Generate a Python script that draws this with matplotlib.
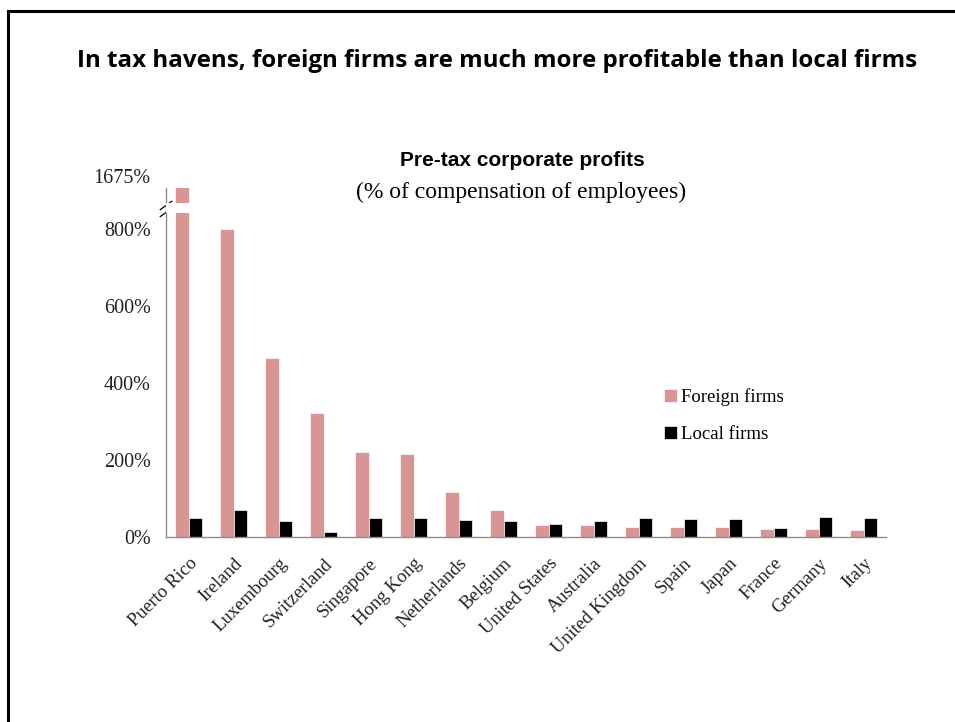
import matplotlib.pyplot as plt
import numpy as np
from matplotlib.lines import Line2D
from matplotlib.patches import Rectangle

countries = ["Puerto Rico", "Ireland", "Luxembourg", "Switzerland", "Singapore",
             "Hong Kong", "Netherlands", "Belgium", "United States", "Australia",
             "United Kingdom", "Spain", "Japan", "France", "Germany", "Italy"]
foreign = [1675, 800, 464, 323, 221, 215, 117, 70, 30, 30, 27, 27, 27, 22, 22, 18]
local = [50, 70, 41, 12, 50, 50, 44, 41, 33, 41, 49, 47, 47, 24, 53, 49]
ytick_vals = [0, 200, 400, 600, 800]

serif = "Liberation Serif"
pink = "#d99594"
txt = "#222222"

# axis is cut above 800%, the Puerto Rico bar runs off the top
y_top = 906
gap = (842, 866)

fig = plt.figure(figsize=(9.55, 7.22), dpi=100)
ax = fig.add_axes([166 / 955, 1 - 537 / 722, 720 / 955, 349 / 722])

x = np.arange(len(countries))
w = 0.3
ax.bar(x - w / 2, foreign, w, color=pink, edgecolor="white", linewidth=0.5, label="Foreign firms")
ax.bar(x + w / 2, local, w, color="black", edgecolor="white", linewidth=0.5, label="Local firms")

ax.set_xlim(-0.5, len(countries) - 0.5)
ax.set_ylim(0, y_top)

# white band across the broken bar
ax.add_patch(Rectangle((-0.5, gap[0]), 1, gap[1] - gap[0], facecolor="white",
                       edgecolor="none", zorder=3))

ax.set_yticks(ytick_vals)
ax.set_yticklabels([f"{v}%" for v in ytick_vals], fontfamily=serif, fontsize=14.5, color=txt)
ax.tick_params(axis="y", length=0, pad=11)
ax.text(-0.022, 1.0, f"{foreign[0]}%", transform=ax.transAxes, ha="right", va="bottom",
        fontfamily=serif, fontsize=14.5, color=txt)

ax.set_xticks(x)
ax.set_xticklabels(countries, rotation=45, ha="right", rotation_mode="anchor",
                   fontfamily=serif, fontsize=13.5, color=txt)
ax.tick_params(axis="x", length=0, pad=13)

for s in ["top", "right"]:
    ax.spines[s].set_visible(False)
for s in ["left", "bottom"]:
    ax.spines[s].set_color("#8c8c8c")
    ax.spines[s].set_linewidth(1.0)

# break marks on the y axis
for yy in (0.93, 0.95):
    ax.add_line(Line2D([-0.008, 0.008], [yy - 0.012, yy + 0.012], transform=ax.transAxes,
                       color="black", linewidth=0.9, clip_on=False))

ax.legend(loc="upper left", bbox_to_anchor=(0.668, 0.475), frameon=False,
          prop={"family": serif, "size": 13.5}, handlelength=0.7, handleheight=0.7,
          handletextpad=0.2, labelspacing=1.05)

fig.text(497 / 955, 1 - 61 / 722, "In tax havens, foreign firms are much more profitable than local firms",
         ha="center", va="center", fontfamily="Open Sans", fontweight="bold", fontsize=17.4)
fig.text(522 / 955, 1 - 160 / 722, "Pre-tax corporate profits", ha="center", va="center",
         fontfamily="Liberation Sans", fontweight="bold", fontsize=15)
fig.text(521 / 955, 1 - 192 / 722, "(% of compensation of employees)", ha="center", va="center",
         fontfamily=serif, fontsize=17)

# slide frame
fig.add_artist(Line2D([7.5 / 955, 7.5 / 955], [0, 1 - 11 / 722], color="black", linewidth=2.2))
fig.add_artist(Line2D([7.5 / 955, 1], [1 - 11 / 722, 1 - 11 / 722], color="black", linewidth=2.2))

fig.savefig("out.png", dpi=100)
